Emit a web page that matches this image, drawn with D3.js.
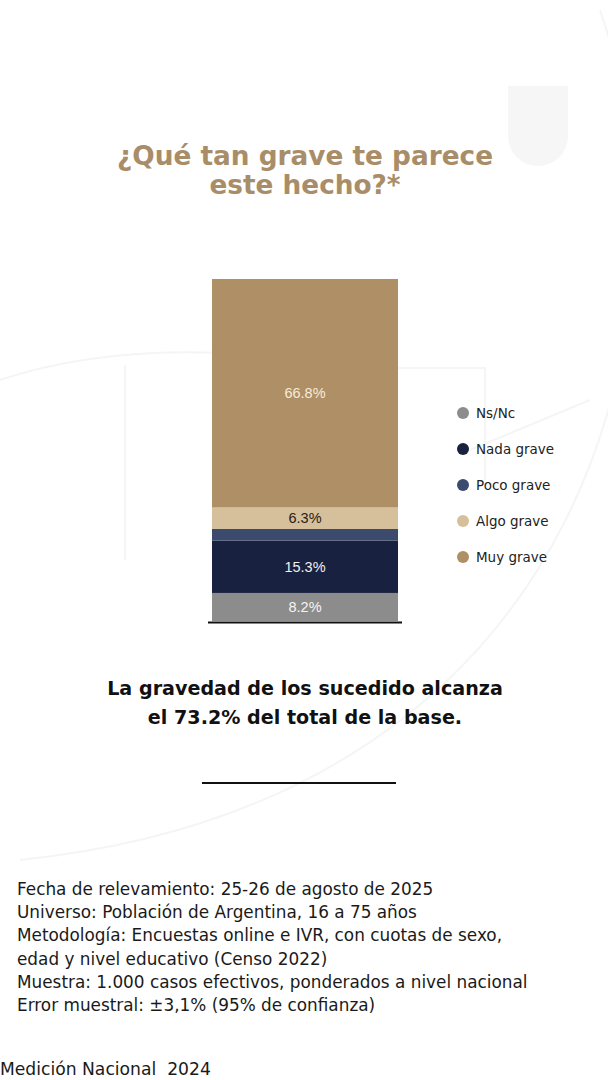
<!DOCTYPE html>
<html>
<head>
<meta charset="utf-8">
<script src="https://cdn.jsdelivr.net/npm/d3@7"></script>
<style>
  html, body { margin: 0; padding: 0; background: #fff; }
  svg { display: block; }
</style>
</head>
<body>
<div id="wrapper"></div>
<script>
// categories, bottom to top
const categories = ["Ns/Nc", "Nada grave", "Poco grave", "Algo grave", "Muy grave"];
const values = [8.2, 15.3, 3.4, 6.3, 66.8];
const labels = ["8.2%", "15.3%", "", "6.3%", "66.8%"];
const colors = ["#8c8c8c", "#18213f", "#3b4a6d", "#d6bf9b", "#ae8f66"];
const labelColors = ["#f4f4f4", "#f0f0f0", "#fff", "#2a2014", "#f6ecdc"];

const titleLines = ["¿Qué tan grave te parece", "este hecho?*"];
const subLines = ["La gravedad de los sucedido alcanza", "el 73.2% del total de la base."];
const notes = [
  "Fecha de relevamiento: 25-26 de agosto de 2025",
  "Universo: Población de Argentina, 16 a 75 años",
  "Metodología: Encuestas online e IVR, con cuotas de sexo,",
  "edad y nivel educativo (Censo 2022)",
  "Muestra: 1.000 casos efectivos, ponderados a nivel nacional",
  "Error muestral: ±3,1% (95% de confianza)"
];
const footer = "Medición Nacional  2024";

const W = 608, H = 1080;
const svg = d3.select("#wrapper").append("svg")
  .attr("width", W).attr("height", H);

// faint background decoration
const deco = svg.append("g").attr("fill", "none").attr("stroke", "#f5f5f5").attr("stroke-width", 2);
deco.append("path").attr("d", "M0,380 C120,340 260,350 330,368 L485,368 L485,480");
deco.append("path").attr("d", "M125,365 L125,560 M470,450 L590,400");
deco.append("path").attr("d", "M600,10 C700,300 600,800 20,860");
svg.append("path").attr("d", "M508,86 h60 v50 a30,30 0 0 1 -30,30 a30,30 0 0 1 -30,-30 z")
  .attr("fill", "#f6f6f6");

// scale a group of texts so that one reference line reaches a target width
function fitGroup(sel, refIndex, target) {
  const node = sel.nodes()[refIndex];
  const fs = parseFloat(d3.select(node).attr("font-size"));
  const w = node.getComputedTextLength();
  if (w > 0) sel.attr("font-size", (fs * target / w).toFixed(2));
}

// title
const title = svg.append("g").selectAll("text").data(titleLines).join("text")
  .attr("x", 305).attr("y", (d, i) => 165 + i * 29)
  .attr("text-anchor", "middle")
  .attr("font-family", "'DejaVu Sans', sans-serif")
  .attr("font-weight", 700)
  .attr("font-size", 25)
  .attr("fill", "#a98d68")
  .text(d => d);
fitGroup(title, 0, 376);

// stacked bar
const y = d3.scaleLinear().domain([0, 100]).range([621, 279]);
const x = d3.scaleBand().domain(["total"]).range([212, 398]).padding(0);
const stacked = d3.stack().keys(categories)([Object.fromEntries(categories.map((c, i) => [c, values[i]]))]);

const bars = svg.append("g");
bars.selectAll("rect").data(stacked).join("rect")
  .attr("x", x("total"))
  .attr("width", x.bandwidth())
  .attr("y", d => y(d[0][1]))
  .attr("height", d => y(d[0][0]) - y(d[0][1]))
  .attr("fill", (d, i) => colors[i]);

bars.selectAll("text").data(stacked).join("text")
  .attr("x", x("total") + x.bandwidth() / 2)
  .attr("y", d => (y(d[0][0]) + y(d[0][1])) / 2)
  .attr("dy", "0.36em")
  .attr("text-anchor", "middle")
  .attr("font-family", "'Liberation Sans', Arial, sans-serif")
  .attr("font-size", 14.5)
  .attr("fill", (d, i) => labelColors[i])
  .text((d, i) => labels[i]);

// baseline
svg.append("line")
  .attr("x1", 208).attr("x2", 402)
  .attr("y1", y(0) + 1.5).attr("y2", y(0) + 1.5)
  .attr("stroke", "#111").attr("stroke-width", 2);

// legend
const legend = svg.append("g").selectAll("g").data(categories).join("g")
  .attr("transform", (d, i) => `translate(463, ${413 + i * 36})`);
legend.append("circle").attr("r", 6).attr("fill", (d, i) => colors[i]);
const legendText = legend.append("text")
  .attr("x", 13).attr("dy", "0.35em")
  .attr("font-family", "'DejaVu Sans', sans-serif")
  .attr("font-size", 13)
  .attr("fill", "#222")
  .text(d => d);
fitGroup(legendText, 1, 78);

// conclusion
const sub = svg.append("g").selectAll("text").data(subLines).join("text")
  .attr("x", 305).attr("y", (d, i) => 695 + i * 29)
  .attr("text-anchor", "middle")
  .attr("font-family", "'DejaVu Sans', sans-serif")
  .attr("font-weight", 700)
  .attr("font-size", 18)
  .attr("fill", "#111")
  .text(d => d);
fitGroup(sub, 0, 396);

svg.append("line")
  .attr("x1", 202).attr("x2", 396)
  .attr("y1", 783).attr("y2", 783)
  .attr("stroke", "#111").attr("stroke-width", 2);

// methodology notes
const noteText = svg.append("g").selectAll("text").data(notes).join("text")
  .attr("x", 17).attr("y", (d, i) => 895 + i * 23.2)
  .attr("font-family", "'DejaVu Sans', sans-serif")
  .attr("font-size", 15)
  .attr("fill", "#1a1a1a")
  .text(d => d);
fitGroup(noteText, 4, 511);

const foot = svg.append("text")
  .attr("x", 0).attr("y", 1075)
  .attr("font-family", "'DejaVu Sans', sans-serif")
  .attr("font-size", 15)
  .attr("fill", "#1a1a1a")
  .style("white-space", "pre")
  .text(footer);
fitGroup(foot, 0, 211);
</script>
</body>
</html>
